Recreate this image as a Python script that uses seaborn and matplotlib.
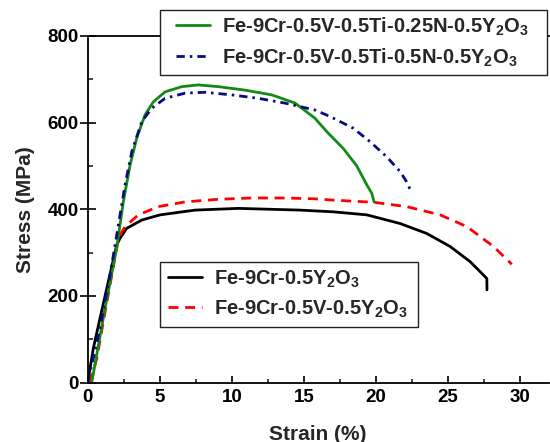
import matplotlib
matplotlib.use("Agg")
import matplotlib.pyplot as plt
from matplotlib.patches import Rectangle
import seaborn as sns
import pandas as pd

sns.set_theme(style="white")
plt.rcParams['font.family'] = ['Liberation Sans', 'DejaVu Sans']
plt.rcParams['font.weight'] = 'bold'
plt.rcParams['mathtext.fontset'] = 'custom'
plt.rcParams['mathtext.rm'] = 'Liberation Sans:bold'
plt.rcParams['mathtext.bf'] = 'Liberation Sans:bold'
plt.rcParams['mathtext.it'] = 'Liberation Sans:bold'

labels = [
    'Fe-9Cr-0.5Y$_2$O$_3$',
    'Fe-9Cr-0.5V-0.5Y$_2$O$_3$',
    'Fe-9Cr-0.5V-0.5Ti-0.25N-0.5Y$_2$O$_3$',
    'Fe-9Cr-0.5V-0.5Ti-0.5N-0.5Y$_2$O$_3$',
]

# Fe-9Cr-0.5Y2O3 (black)
strain_a = [0, 0.39, 0.85, 1.43, 2.01, 2.24, 2.71, 3.75, 5.02, 7.45, 10.46, 14.74,
            17.06, 19.38, 21.69, 23.54, 25.16, 26.55, 27.36, 27.71, 27.72]
stress_a = [0, 79, 148, 233, 317, 333, 356, 375, 387, 398, 402, 398,
            394, 387, 367, 344, 314, 279, 252, 240, 214]

# Fe-9Cr-0.5V-0.5Y2O3 (red dashed)
strain_b = [0.16, 0.63, 1.08, 1.67, 2.13, 2.59, 3.51, 4.90, 6.76, 9.07, 11.39, 13.7,
            15.78, 17.06, 19.88, 22.15, 24.47, 26.32, 28.17, 29.44]
stress_b = [0, 56, 140, 248, 333, 360, 387, 406, 417, 423, 426, 426,
            424, 421, 416, 406, 387, 360, 314, 273]

# Fe-9Cr-0.5V-0.5Ti-0.25N-0.5Y2O3 (green)
strain_c = [0.28, 1.2, 2.01, 2.47, 2.94, 3.40, 3.98, 4.56, 5.37, 6.53, 7.68, 9.07,
            10.92, 12.78, 14.4, 15.78, 16.6, 17.75, 18.68, 19.38, 19.72, 19.88]
stress_c = [0, 171, 310, 417, 502, 564, 618, 648, 671, 683, 687, 683,
            675, 664, 645, 610, 579, 540, 500, 456, 437, 417]

# Fe-9Cr-0.5V-0.5Ti-0.5N-0.5Y2O3 (navy dash-dot)
strain_d = [0, 0.85, 1.55, 2.13, 2.59, 3.06, 3.75, 4.44, 5.37, 6.76, 8.15, 10.0,
            11.85, 13.7, 15.78, 16.83, 18.44, 19.6, 20.76, 21.69, 22.15, 22.5]
stress_d = [0, 125, 248, 364, 456, 533, 602, 633, 656, 668, 670, 664,
            656, 645, 629, 614, 587, 556, 521, 487, 463, 437]

series = [
    (strain_a, stress_a, 'black', '-'),
    (strain_b, stress_b, '#ff0000', (0, (3.6, 2.4))),
    (strain_c, stress_c, '#138a13', '-'),
    (strain_d, stress_d, '#0b0b80', (0, (3.0, 1.8, 0.9, 1.8))),
]

W, H = 550, 442
fig = plt.figure(figsize=(W / 100, H / 100), dpi=100)
ax = fig.add_axes([0.1595, 0.1346, 0.838, 0.784])

handles = []
for (sx, sy, col, ls), lab in zip(series, labels):
    df = pd.DataFrame({'Strain': sx, 'Stress': sy})
    sns.lineplot(data=df, x='Strain', y='Stress', ax=ax, sort=False, estimator=None,
                 color=col, linewidth=2.0)
    ln = ax.lines[-1]
    ln.set_linestyle(ls)
    ln.set_solid_joinstyle('round')
    ln.set_dash_capstyle('butt')
    handles.append(ln)

ax.set_xlim(0, 32)
ax.set_ylim(0, 800)
ax.set_xticks([0, 5, 10, 15, 20, 25, 30])
ax.set_xticks([2.5, 7.5, 12.5, 17.5, 22.5, 27.5], minor=True)
ax.set_yticks([0, 200, 400, 600, 800])
ax.set_yticks([100, 300, 500, 700], minor=True)
ax.tick_params(axis='x', which='major', direction='in', length=5, width=1.2,
               labelsize=13.5, pad=5, colors='black')
ax.tick_params(axis='x', which='minor', direction='in', length=3, width=1.2)
ax.tick_params(axis='y', which='major', direction='inout', length=12, width=1.2,
               labelsize=13.5, pad=0.5, colors='black')
ax.tick_params(axis='y', which='minor', direction='in', length=3.5, width=1.2)
ax.tick_params(bottom=True, left=True, which='both')
for lab in ax.get_xticklabels() + ax.get_yticklabels():
    lab.set_fontweight('bold')

for side in ['left', 'bottom', 'top']:
    ax.spines[side].set_color('black')
    ax.spines[side].set_linewidth(1.3)
ax.spines['right'].set_visible(False)

ax.set_xlabel('Strain (%)', fontsize=15, fontweight='bold', labelpad=13)
ax.set_ylabel('Stress (MPa)', fontsize=15, fontweight='bold', labelpad=9)

# legend frames (pixel boxes converted to figure fraction)
for (x0, y0, x1, y1) in [(160, 10, 547, 75), (160, 262, 418, 327)]:
    fig.patches.append(Rectangle((x0 / W, 1 - y1 / H), (x1 - x0) / W, (y1 - y0) / H,
                                 transform=fig.transFigure, facecolor='white',
                                 edgecolor='#222222', linewidth=1.0, zorder=4))

legkw = dict(loc='center left', fontsize=14.5, frameon=False, handlelength=1.7,
             handletextpad=0.6, borderpad=0, labelspacing=0.42, borderaxespad=0)
leg1 = fig.legend(handles[2:4], labels[2:4], bbox_to_anchor=(176 / W, 1 - 42 / H), **legkw)
leg2 = fig.legend(handles[0:2], labels[0:2], bbox_to_anchor=(168 / W, 1 - 294 / H), **legkw)
for lg in (leg1, leg2):
    lg.set_zorder(5)
    for t in lg.get_texts():
        t.set_fontweight('bold')

fig.savefig('out.png', dpi=100)
